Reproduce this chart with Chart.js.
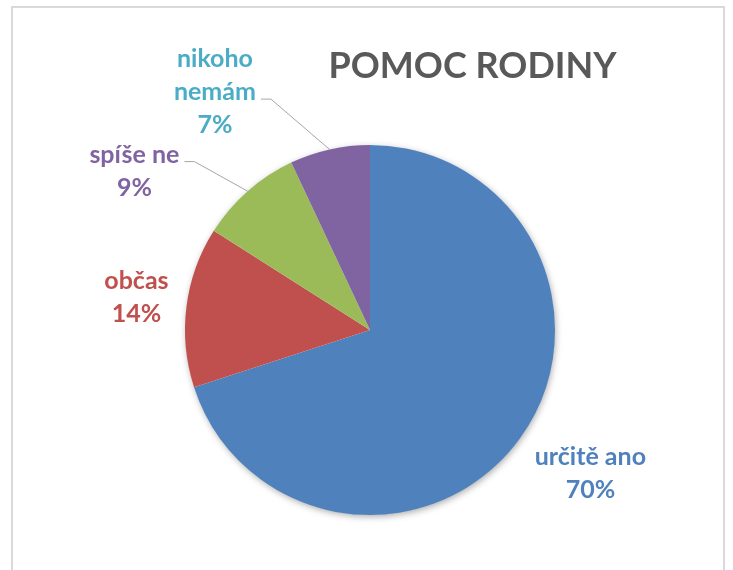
<!DOCTYPE html>
<html>
<head>
<meta charset="utf-8">
<script src="https://cdn.jsdelivr.net/npm/chart.js@4.4.1/dist/chart.umd.min.js"></script>
<style>
  html, body { margin: 0; padding: 0; background: #fff; }
  canvas { display: block; }
</style>
</head>
<body>
<canvas id="c" width="733" height="570"></canvas>
<script>
// ---- data ----
const categories = ['určitě ano', 'občas', 'spíše ne', 'nikoho nemám'];
const values = [70, 14, 9, 7];
const sliceColors = ['#4F81BD', '#C0504D', '#9BBB59', '#8064A2'];
const labelColors = ['#4F81BD', '#C0504D', '#8064A2', '#4BACC6'];
const titleText = 'POMOC RODINY';

// label placement: angle (deg, clockwise from top) and distance (x radius) of label block centre
const labelAngle = [123.1, 278.0, 304.0, 326.9];
const labelDist = [1.422, 1.275, 1.536, 1.535];
const hasLeader = [false, false, true, true];

const FONT = 'bold 25px Lato, "Open Sans", sans-serif';
const LINE_H = 33;

function wrap(label) {
  return label.length > 10 ? label.split(' ') : [label];
}

const framePlugin = {
  id: 'frame',
  beforeDraw(chart) {
    const ctx = chart.ctx;
    ctx.save();
    ctx.fillStyle = '#fff';
    ctx.fillRect(0, 0, chart.width, chart.height);
    ctx.strokeStyle = '#d9d9d9';
    ctx.lineWidth = 2;
    ctx.strokeRect(12, 7, 712, 620);
    ctx.restore();
  }
};

const shadowPlugin = {
  id: 'pieShadow',
  beforeDatasetsDraw(chart) {
    const arc = chart.getDatasetMeta(0).data[0];
    if (!arc) return;
    const ctx = chart.ctx;
    ctx.save();
    ctx.shadowColor = 'rgba(0,0,0,0.35)';
    ctx.shadowBlur = 7;
    ctx.shadowOffsetX = 1;
    ctx.shadowOffsetY = 2;
    ctx.fillStyle = '#fff';
    ctx.beginPath();
    ctx.arc(arc.x, arc.y, arc.outerRadius - 0.5, 0, Math.PI * 2);
    ctx.fill();
    ctx.restore();
  }
};

const labelPlugin = {
  id: 'pieLabels',
  afterDatasetsDraw(chart) {
    const ctx = chart.ctx;
    const meta = chart.getDatasetMeta(0);
    const data = chart.data.datasets[0].data;
    const total = data.reduce((a, b) => a + b, 0);
    ctx.save();
    ctx.font = FONT;
    ctx.textAlign = 'center';
    ctx.textBaseline = 'alphabetic';
    meta.data.forEach((arc, i) => {
      const p = arc.getProps(['x', 'y', 'startAngle', 'endAngle', 'outerRadius'], true);
      const a = (labelAngle[i] - 90) * Math.PI / 180;
      const cx = p.x + Math.cos(a) * labelDist[i] * p.outerRadius;
      const cy = p.y + Math.sin(a) * labelDist[i] * p.outerRadius;
      const lines = wrap(chart.data.labels[i]).concat([Math.round(data[i] / total * 100) + '%']);
      const n = lines.length;
      const baselines = lines.map((_, k) => cy + (k - (n - 1) / 2) * LINE_H + 8);
      if (hasLeader[i]) {
        const k = n - 2;
        const w = ctx.measureText(lines[k]).width;
        const ex = cx + w / 2 + 5;
        const ey = baselines[k] - 1;
        const mid = (p.startAngle + p.endAngle) / 2;
        const ax = p.x + Math.cos(mid) * p.outerRadius;
        const ay = p.y + Math.sin(mid) * p.outerRadius;
        ctx.strokeStyle = '#a6a6a6';
        ctx.lineWidth = 1;
        ctx.beginPath();
        ctx.moveTo(ex, ey);
        ctx.lineTo(ex + 10, ey);
        ctx.lineTo(ax, ay);
        ctx.stroke();
      }
      ctx.fillStyle = labelColors[i];
      lines.forEach((t, k) => ctx.fillText(t, cx, baselines[k]));
    });
    // title
    ctx.fillStyle = '#595959';
    ctx.font = 'bold 36px Lato, "Open Sans", sans-serif';
    ctx.fillText(titleText, 472.5, 78);
    ctx.restore();
  }
};

new Chart(document.getElementById('c'), {
  type: 'pie',
  data: {
    labels: categories,
    datasets: [{
      data: values,
      backgroundColor: sliceColors,
      borderWidth: 0
    }]
  },
  options: {
    responsive: false,
    animation: false,
    layout: { padding: { left: 185, right: 178, top: 145, bottom: 55 } },
    plugins: {
      legend: { display: false },
      tooltip: { enabled: false },
      title: { display: false }
    }
  },
  plugins: [framePlugin, shadowPlugin, labelPlugin]
});
</script>
</body>
</html>
